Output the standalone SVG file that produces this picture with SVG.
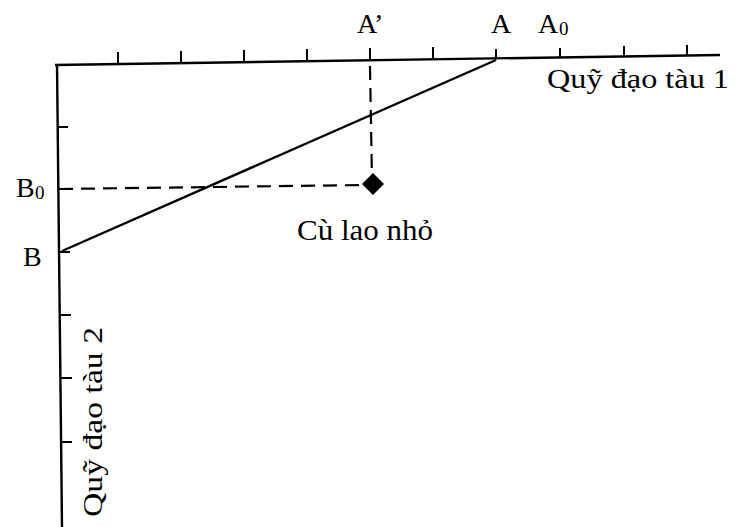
<svg xmlns="http://www.w3.org/2000/svg" width="750" height="527" viewBox="0 0 750 527">
<style>
.ax{stroke:#000;stroke-width:2.4;fill:none;stroke-linecap:butt}
.tk{stroke:#000;stroke-width:2;fill:none}
.ds{stroke:#000;stroke-width:2.2;fill:none;stroke-dasharray:14 8}
.t{font-family:"Liberation Serif","Times New Roman",serif;font-size:28px;fill:#000}
.s{font-family:"Liberation Serif","Times New Roman",serif;font-size:19px;fill:#000}
</style>
<rect width="750" height="527" fill="#fff"/>
<g id="axis1">
<path class="ax" d="M55 65 L720 55"/>
<path class="tk" d="M118 64V52 M181 63V51 M244 62V50 M307 61V49 M370 60V48 M433 59V47 M496 59V49 M560 58V48 M624 57V46 M687 56V45"/>
<text class="t" x="547" y="88" textLength="182" lengthAdjust="spacingAndGlyphs">Quỹ đạo tàu 1</text>
</g>
<g id="axis2">
<path class="ax" d="M57 64 L62 527"/>
<path class="tk" d="M58 127H68 M58 189H69 M59 252H70 M60 315H71 M60 378H72 M61 442H72"/>
<text class="t" transform="translate(102,517) rotate(-90)" textLength="190" lengthAdjust="spacingAndGlyphs">Quỹ đạo tàu 2</text>
</g>
<g id="labelA1">
<text class="t" x="357" y="33">A’</text>
</g>
<g id="labelA">
<text class="t" x="491" y="33">A</text>
</g>
<g id="labelA0">
<text class="t" x="538" y="33">A</text><text class="s" x="559" y="35">0</text>
</g>
<g id="labelB0">
<text class="t" x="16" y="197">B</text><text class="s" x="35" y="199">0</text>
</g>
<g id="labelB">
<text class="t" x="23" y="266">B</text>
</g>
<g id="island">
<path d="M373 173 L384 184 L373 195 L362 184 Z" fill="#000"/>
<text class="t" x="297" y="240" style="font-size:30px" textLength="136" lengthAdjust="spacingAndGlyphs">Cù lao nhỏ</text>
</g>
<g id="connectors">
<path class="ax" d="M62 251 L496 60"/>
<path class="ds" d="M370 66 L372 180"/>
<path class="ds" d="M59 189 L366 185"/>
</g>
</svg>
